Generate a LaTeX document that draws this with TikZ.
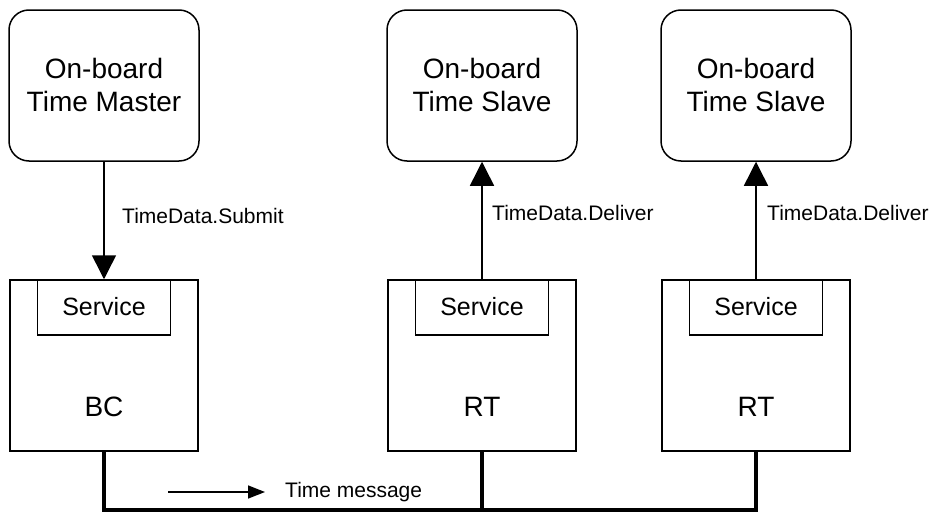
\documentclass[tikz,border=0pt]{standalone}
\usepackage{fontspec}
\setmainfont{Liberation Sans}
\usetikzlibrary{arrows.meta}
\begin{document}
\begin{tikzpicture}[x=1pt,y=-1pt,
  tbox/.style={draw,line width=1.5pt,rounded corners=20pt,minimum width=190pt,minimum height=151pt,align=center,font=\fontsize{28}{33}\selectfont,inner sep=0pt},
  unit/.style={draw,line width=1.5pt,minimum width=188pt,minimum height=171pt,inner sep=0pt},
  svc/.style={draw,line width=1.5pt,minimum width=133pt,minimum height=55pt,inner sep=0pt,font=\fontsize{25}{30}\selectfont},
  big/.style={font=\fontsize{28}{33}\selectfont,inner sep=0pt},
  lbl/.style={font=\fontsize{21}{25}\selectfont,anchor=west,inner sep=0pt},
  conn/.style={line width=1.5pt,-{Triangle[length=24pt,width=24pt]}},
  bus/.style={line width=4pt}]
\useasboundingbox (0,0) rectangle (932,514);
% top boxes
\node[tbox] (master) at (104,85.5) {\raisebox{2pt}{On-board}\\\raisebox{2pt}{Time Master}};
\node[tbox] (slave1) at (482,85.5) {\raisebox{2pt}{On-board}\\\raisebox{2pt}{Time Slave}};
\node[tbox] (slave2) at (756,85.5) {\raisebox{2pt}{On-board}\\\raisebox{2pt}{Time Slave}};
% units
\node[unit] (bc)  at (104,365.5) {};
\node[unit] (rt1) at (482,365.5) {};
\node[unit] (rt2) at (756,365.5) {};
\node[svc,anchor=north] (svc0) at (bc.north)  {\raisebox{3pt}{Service}};
\node[svc,anchor=north] (svc1) at (rt1.north) {\raisebox{3pt}{Service}};
\node[svc,anchor=north] (svc2) at (rt2.north) {\raisebox{3pt}{Service}};
\node[big] (bct)  at (104,407) {BC};
\node[big] (rt1t) at (482,407) {RT};
\node[big] (rt2t) at (756,407) {RT};
% vertical connectors
\draw[conn] (master.south) -- (svc0.north);
\draw[conn] (svc1.north) -- (slave1.south);
\draw[conn] (svc2.north) -- (slave2.south);
\node[lbl] (l0) at (122,216) {TimeData.Submit};
\node[lbl] (l1) at (492,213) {TimeData.Deliver};
\node[lbl] (l2) at (767,213) {TimeData.Deliver};
% bus
\coordinate (busL) at (104,510);
\coordinate (busM) at (482,510);
\coordinate (busR) at (756,510);
\draw[bus] (bc.south) -- (busL) -- (busR) -- (rt2.south);
\draw[bus] (rt1.south) -- (busM);
% time message
\coordinate (tmA) at (168,492);
\coordinate (tmB) at (265,492);
\draw[line width=1.5pt,-{Triangle[length=17pt,width=13pt]}] (tmA) -- (tmB);
\node[lbl] (tm) at (285,492) {Time message};
\end{tikzpicture}
\end{document}
